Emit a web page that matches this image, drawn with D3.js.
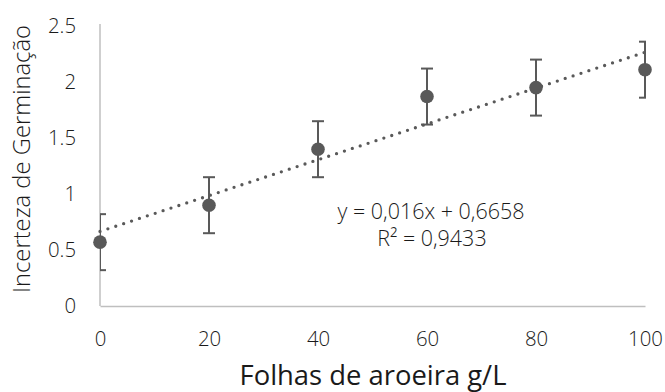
<!DOCTYPE html>
<html>
<head>
<meta charset="utf-8">
<script src="https://cdn.jsdelivr.net/npm/d3@7"></script>
<style>
  body { margin: 0; background: #fff; }
  text { font-family: "Open Sans", "Noto Sans", sans-serif; }
</style>
</head>
<body>
<svg id="chart"></svg>
<script>
// DATA ////////////////////////////////////////////////////////////////
var doses = [0, 20, 40, 60, 80, 100];
var incerteza = [0.57, 0.90, 1.40, 1.87, 1.95, 2.11];
var erro = [0.25, 0.25, 0.25, 0.25, 0.25, 0.25];
var yTicks = [0, 0.5, 1, 1.5, 2, 2.5];
var xTicks = [0, 20, 40, 60, 80, 100];
var trendSlope = 0.016;
var trendIntercept = 0.6658;
var eqLabel = "y = 0,016x + 0,6658";
var r2Label = "R² = 0,9433";

// SETUP ///////////////////////////////////////////////////////////////
const W = 665, H = 392;
const LEFT = 100, RIGHT = 20, TOP = 26, BOTTOM = 86;
const PW = W - LEFT - RIGHT, PH = H - TOP - BOTTOM;
const GREY = "#595959";
const INK = "#1a1a1a";

var svg = d3.select("#chart").attr("width", W).attr("height", H);
var g = svg.append("g").attr("transform", "translate(" + LEFT + "," + TOP + ")");

var x = d3.scaleLinear().domain([0, 100]).range([0, PW]);
var y = d3.scaleLinear().domain([0, 2.5]).range([PH, 0]);

// scale a text's font so that it spans a given width
function fitSize(str, width, weight) {
    var t = svg.append("text").text(str).style("font-size", "100px").style("font-weight", weight || 400);
    var w = t.node().getComputedTextLength();
    t.remove();
    return 100 * width / w;
}

var tickSize = (fitSize("2.5", 28, 300) + fitSize("100", 35, 300)) / 2;

svg.append("defs").append("clipPath").attr("id", "plotClip")
    .append("rect").attr("x", 0).attr("y", -4).attr("width", PW + 1).attr("height", PH + 8);

// axes
var yAxis = g.append("g")
    .call(d3.axisLeft(y).tickValues(yTicks).tickSize(0).tickPadding(24)
        .tickFormat(function (d) { return d; }));
yAxis.select(".domain").attr("stroke", "#bfbfbf").attr("stroke-width", 1.5).attr("d", "M0," + (PH) + "V-2");
yAxis.selectAll("text").style("font-size", tickSize + "px").style("font-weight", 300).style("fill", INK);

var xAxis = g.append("g")
    .attr("transform", "translate(0," + PH + ")")
    .call(d3.axisBottom(x).tickValues(xTicks).tickSize(0).tickPadding(26));
xAxis.select(".domain").attr("stroke", "#bfbfbf").attr("stroke-width", 1.5);
xAxis.selectAll("text").style("font-size", tickSize + "px").style("font-weight", 300).style("fill", INK);

// trendline
var trend = d3.line()
    .x(function (d) { return x(d); })
    .y(function (d) { return y(trendSlope * d + trendIntercept); });

g.append("path")
    .datum([0, 100])
    .attr("d", trend)
    .attr("fill", "none")
    .attr("stroke", GREY)
    .attr("stroke-width", 3.3)
    .attr("stroke-linecap", "round")
    .attr("stroke-dasharray", "0 8.3");

// error bars
var bars = g.append("g").attr("clip-path", "url(#plotClip)")
    .selectAll("g")
    .data(doses)
    .enter()
    .append("g");

bars.append("line")
    .attr("x1", function (d) { return x(d); })
    .attr("x2", function (d) { return x(d); })
    .attr("y1", function (d, i) { return y(incerteza[i] + erro[i]); })
    .attr("y2", function (d, i) { return y(incerteza[i] - erro[i]); })
    .attr("stroke", GREY).attr("stroke-width", 2);

[1, -1].forEach(function (s) {
    bars.append("line")
        .attr("x1", function (d) { return x(d) - 6; })
        .attr("x2", function (d) { return x(d) + 6; })
        .attr("y1", function (d, i) { return y(incerteza[i] + s * erro[i]); })
        .attr("y2", function (d, i) { return y(incerteza[i] + s * erro[i]); })
        .attr("stroke", GREY).attr("stroke-width", 2);
});

// markers
g.selectAll("circle")
    .data(doses)
    .enter()
    .append("circle")
    .attr("cx", function (d) { return x(d); })
    .attr("cy", function (d, i) { return y(incerteza[i]); })
    .attr("r", 6.8)
    .attr("fill", GREY);

// equation
var eqSize = fitSize(eqLabel, 187, 300);
g.append("text")
    .text(eqLabel)
    .attr("x", 331).attr("y", 193)
    .style("text-anchor", "middle")
    .style("font-size", eqSize + "px")
    .style("font-weight", 300)
    .style("fill", INK);

g.append("text")
    .text(r2Label)
    .attr("x", 332).attr("y", 220)
    .style("text-anchor", "middle")
    .style("font-size", eqSize + "px")
    .style("font-weight", 300)
    .style("fill", INK);

// titles
svg.append("text")
    .text("Folhas de aroeira g/L")
    .attr("x", 373).attr("y", 385)
    .style("text-anchor", "middle")
    .style("font-size", fitSize("Folhas de aroeira g/L", 267) + "px")
    .style("fill", INK);

svg.append("text")
    .text("Incerteza de Germinação")
    .attr("transform", "translate(30," + 159 + ") rotate(-90)")
    .style("text-anchor", "middle")
    .style("font-size", fitSize("Incerteza de Germinação", 268, 300) + "px")
    .style("font-weight", 300)
    .style("fill", INK);
</script>
</body>
</html>
